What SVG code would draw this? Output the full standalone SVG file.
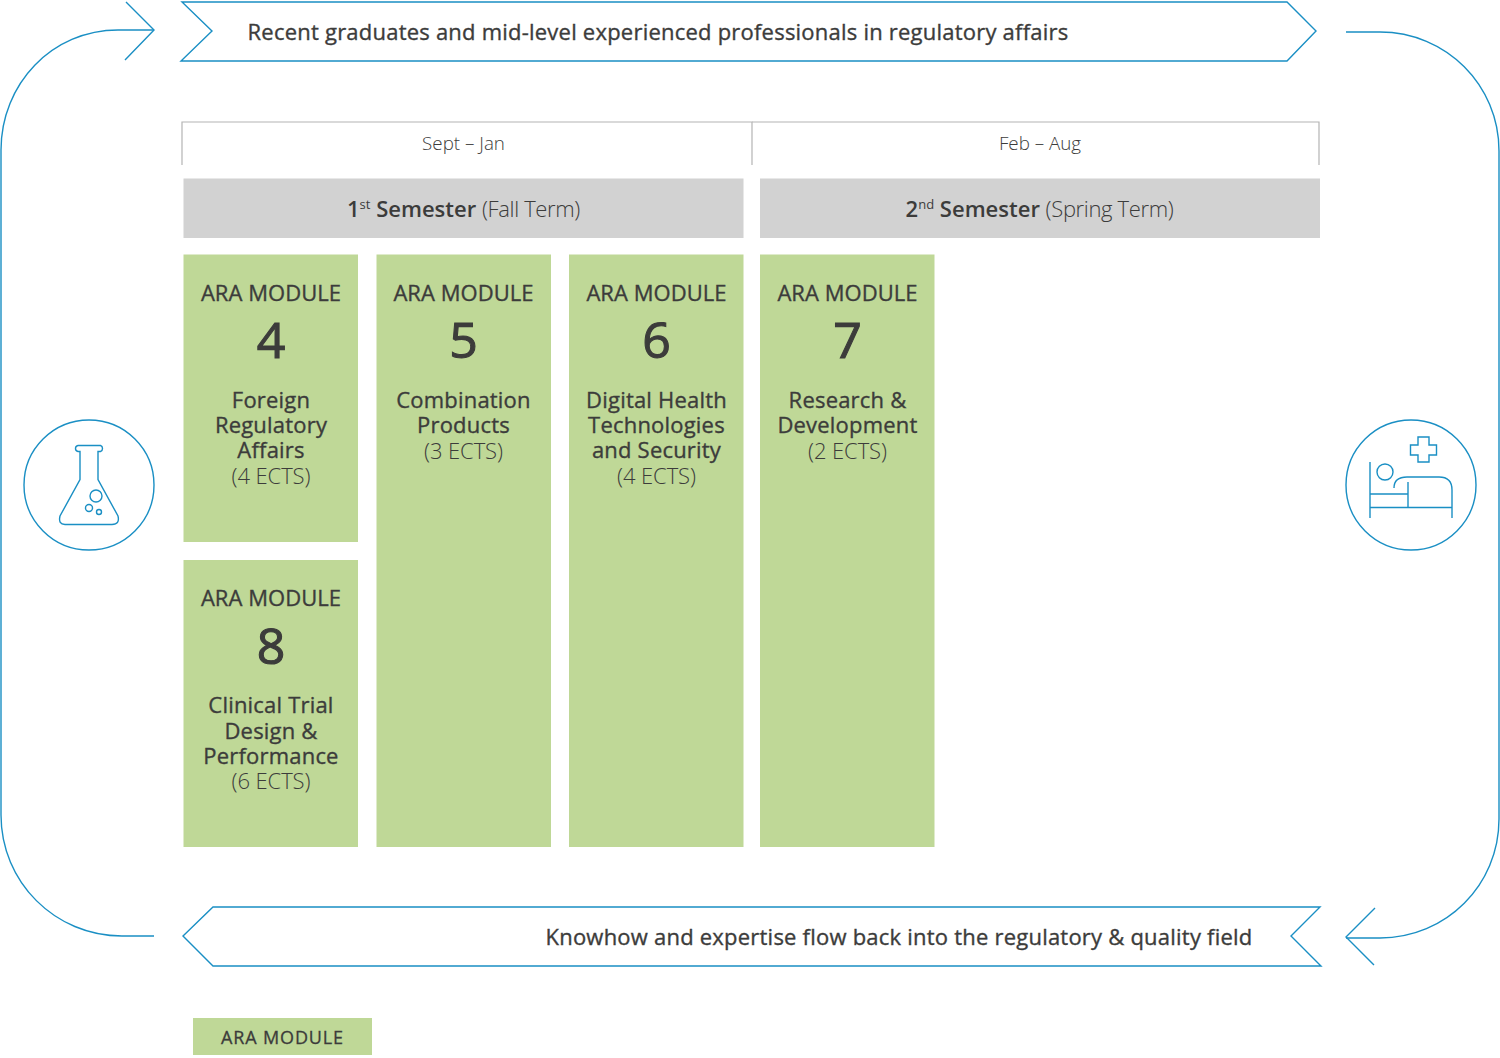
<svg xmlns="http://www.w3.org/2000/svg" width="1500" height="1058" viewBox="0 0 1500 1058">
<style>
text{font-family:"Open Sans","Liberation Sans",sans-serif;fill:#3c3c3b;text-anchor:middle}
.l{fill:none;stroke:#1a8fc4;stroke-width:1.4}
.g{fill:none;stroke:#b4b4b4;stroke-width:1.2}
.m{fill:#bfd897}
.s{fill:#d2d2d2}
.h{font-size:22px;stroke:#3c3c3b;stroke-width:.35px;letter-spacing:.05px}
.n{font-size:50px;stroke:#3c3c3b;stroke-width:1.1px}
.t{font-size:22px;stroke:#3c3c3b;stroke-width:.35px;letter-spacing:.2px}
.e{font-size:22px;font-weight:300;letter-spacing:-.1px}
.b{font-size:22px;stroke:#3c3c3b;stroke-width:.35px;letter-spacing:.22px}
.d{font-size:18.800px;font-weight:300}
.sem{font-size:22px;font-weight:600}
.w{font-weight:300;letter-spacing:-.35px}
.leg{font-size:18px;stroke:#3c3c3b;stroke-width:.3px;letter-spacing:.85px}
</style>
<rect width="1500" height="1058" fill="#fff"/>
<g id="connectors">
<path class="l" d="M154 30H118C52 30 1 84 1 150V815C1 882 55 936 122 936H154"/>
<path class="l" d="M126 2L154 30L125 60"/>
<path class="l" d="M1346 32H1380C1446 32 1499 85 1499 151V819C1499 885 1446 938 1380 938H1346"/>
<path class="l" d="M1375 908L1346 937L1374 965"/>
</g>
<g id="banner-top"><path class="l" d="M182 2H1287L1316 31L1287 61H181L212 31Z"/><text class="b" x="658" y="40">Recent graduates and mid-level experienced professionals in regulatory affairs</text></g>
<g id="banner-bottom"><path class="l" d="M213 907H1320L1291 936L1321 966H213L183 936Z"/><text class="b" x="899" y="945">Knowhow and expertise flow back into the regulatory &amp; quality field</text></g>
<g id="period-1"><path class="g" d="M182 165V122H752V165"/><text class="d" x="463.500" y="150">Sept – Jan</text></g>
<g id="period-2"><path class="g" d="M752 122H1319V165"/><text class="d" x="1040" y="150">Feb – Aug</text></g>
<g id="semester-1"><rect class="s" x="183.500" y="178.500" width="560" height="59.500"/><text class="sem" x="463.500" y="217">1<tspan font-size="13" font-weight="400" dy="-8">st</tspan><tspan dy="8"> Semester </tspan><tspan class="w">(Fall Term)</tspan></text></g>
<g id="semester-2"><rect class="s" x="760" y="178.500" width="560" height="59.500"/><text class="sem" x="1039.500" y="217">2<tspan font-size="13" font-weight="400" dy="-8">nd</tspan><tspan dy="8"> Semester </tspan><tspan class="w">(Spring Term)</tspan></text></g>
<g id="module-4"><rect class="m" x="183.500" y="254.500" width="174.500" height="287.500"/><text class="h" x="271" y="301">ARA MODULE</text><text class="n" x="271" y="358">4</text><text class="t" x="271" y="408">Foreign</text><text class="t" x="271" y="433">Regulatory</text><text class="t" x="271" y="458">Affairs</text><text class="e" x="271" y="484">(4 ECTS)</text></g>
<g id="module-5"><rect class="m" x="376.500" y="254.500" width="174.500" height="592.500"/><text class="h" x="463.500" y="301">ARA MODULE</text><text class="n" x="463.500" y="358">5</text><text class="t" x="463.500" y="408">Combination</text><text class="t" x="463.500" y="433">Products</text><text class="e" x="463.500" y="459">(3 ECTS)</text></g>
<g id="module-6"><rect class="m" x="569" y="254.500" width="174.500" height="592.500"/><text class="h" x="656.500" y="301">ARA MODULE</text><text class="n" x="656.500" y="358">6</text><text class="t" x="656.500" y="408">Digital Health</text><text class="t" x="656.500" y="433">Technologies</text><text class="t" x="656.500" y="458">and Security</text><text class="e" x="656.500" y="484">(4 ECTS)</text></g>
<g id="module-7"><rect class="m" x="760" y="254.500" width="174.500" height="592.500"/><text class="h" x="847.500" y="301">ARA MODULE</text><text class="n" x="847.500" y="358">7</text><text class="t" x="847.500" y="408">Research &amp;</text><text class="t" x="847.500" y="433">Development</text><text class="e" x="847.500" y="459">(2 ECTS)</text></g>
<g id="module-8"><rect class="m" x="183.500" y="560" width="174.500" height="287"/><text class="h" x="271" y="606">ARA MODULE</text><text class="n" x="271" y="664">8</text><text class="t" x="271" y="713">Clinical Trial</text><text class="t" x="271" y="739">Design &amp;</text><text class="t" x="271" y="764">Performance</text><text class="e" x="271" y="789">(6 ECTS)</text></g>
<g id="legend"><rect class="m" x="193" y="1018" width="179" height="37"/><text class="leg" x="282.500" y="1044">ARA MODULE</text></g>
<g id="icon-flask"><circle class="l" cx="89" cy="485" r="65"/>
<path class="l" d="M80 451.500V479.500L60 516Q58 524.500 65 524.500H112Q120 524.500 118 516L98 479.500V451.500H100.500Q102.500 451 102.500 448.500Q102.500 446 100.500 445.500H78Q75.500 446 75.500 448.500Q75.500 451 78 451.500Z"/>
<circle class="l" cx="96" cy="496" r="6"/><circle class="l" cx="89" cy="508" r="3.500"/><circle class="l" cx="99" cy="512" r="2.500"/></g>
<g id="icon-bed"><circle class="l" cx="1411" cy="485" r="65"/>
<path class="l" d="M1370 462V518M1370 494H1408M1370 507.500H1452M1408 482V507.500M1452 518V490Q1452 477 1439 477H1407Q1394 477 1394 488"/>
<circle class="l" cx="1385" cy="472" r="8"/>
<path class="l" d="M1418 437H1429V445H1436.500V455H1429V462H1418V455H1410.500V445H1418Z"/></g>
</svg>
